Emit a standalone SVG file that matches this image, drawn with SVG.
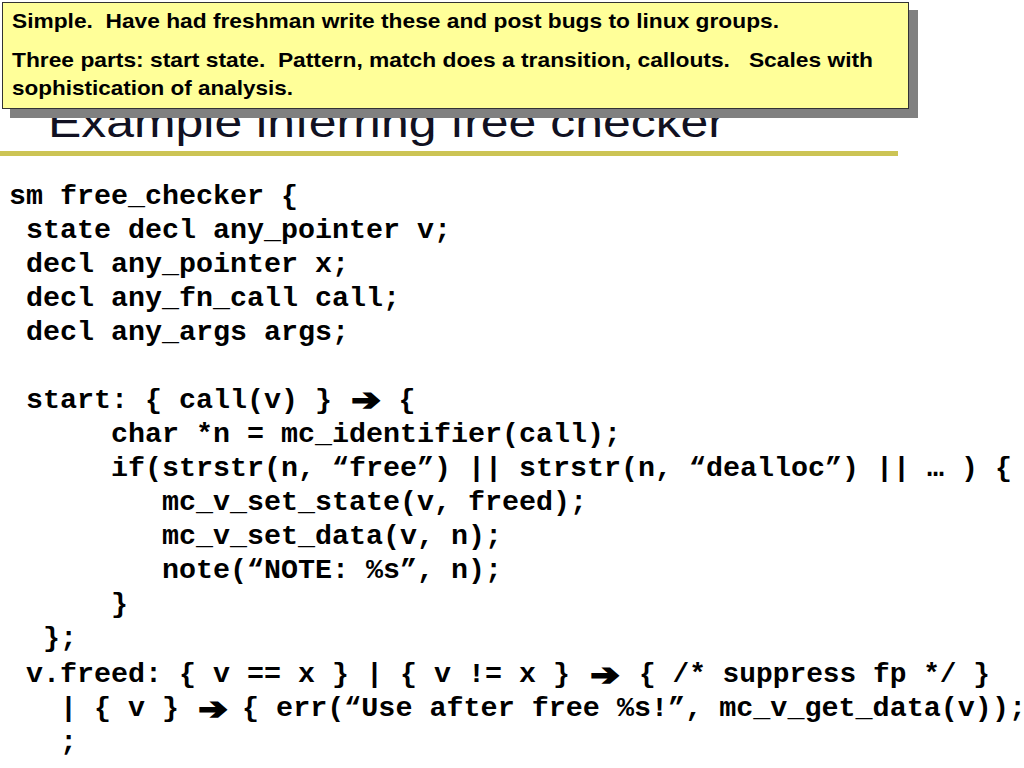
<svg xmlns="http://www.w3.org/2000/svg" width="1024" height="768" viewBox="0 0 1024 768">
<style>
.code{font-family:"Liberation Mono","Courier New",monospace;font-weight:bold;font-size:28.33px;fill:#000;}
.arr{font-family:"DejaVu Sans",sans-serif;font-weight:bold;font-size:30px;fill:#000;stroke:#000;stroke-width:2px;stroke-linejoin:miter;}
.note{font-family:"Liberation Sans",Arial,sans-serif;font-weight:bold;font-size:20.5px;fill:#000;}
.title{font-family:"Liberation Sans",Arial,sans-serif;font-size:42px;fill:#111122;}
</style>
<rect width="1024" height="768" fill="#fff"/>
<g id="title">
<text class="title" x="48" y="137" textLength="677" lengthAdjust="spacingAndGlyphs">Example inferring free checker</text>
<rect x="0" y="151" width="898" height="5" fill="#CCC455"/>
</g>
<g id="callout">
<rect x="10" y="10" width="908" height="108" fill="#808080"/>
<rect x="2.5" y="2.5" width="906" height="106" fill="#FFFF99" stroke="#333" stroke-width="1"/>
<text class="note" x="12" y="28" xml:space="preserve" textLength="767" lengthAdjust="spacingAndGlyphs">Simple.  Have had freshman write these and post bugs to linux groups.</text>
<text class="note" x="12" y="67" xml:space="preserve" textLength="861" lengthAdjust="spacingAndGlyphs">Three parts: start state.  Pattern, match does a transition, callouts.   Scales with</text>
<text class="note" x="12" y="95" xml:space="preserve" textLength="281" lengthAdjust="spacingAndGlyphs">sophistication of analysis.</text>
</g>
<g id="code">
<text class="code" x="9" y="204" xml:space="preserve">sm free_checker {</text>
<text class="code" x="26" y="238" xml:space="preserve">state decl any_pointer v;</text>
<text class="code" x="26" y="272" xml:space="preserve">decl any_pointer x;</text>
<text class="code" x="26" y="306" xml:space="preserve">decl any_fn_call call;</text>
<text class="code" x="26" y="340" xml:space="preserve">decl any_args args;</text>
<text class="code" y="408" xml:space="preserve"><tspan x="26">start: { call(v) }</tspan><tspan class="arr" x="366" y="410" text-anchor="middle" textLength="29" lengthAdjust="spacingAndGlyphs">➔</tspan><tspan x="398.5" y="408">{</tspan></text>
<text class="code" x="111" y="442" xml:space="preserve">char *n = mc_identifier(call);</text>
<text class="code" x="111" y="476" xml:space="preserve">if(strstr(n, “free”) || strstr(n, “dealloc”) || … ) {</text>
<text class="code" x="162" y="510" xml:space="preserve">mc_v_set_state(v, freed);</text>
<text class="code" x="162" y="544" xml:space="preserve">mc_v_set_data(v, n);</text>
<text class="code" x="162" y="578" xml:space="preserve">note(“NOTE: %s”, n);</text>
<text class="code" x="111" y="612">}</text>
<text class="code" x="43" y="646">};</text>
<text class="code" y="682" xml:space="preserve"><tspan x="26">v.freed: { v == x } | { v != x }</tspan><tspan class="arr" x="605" y="685" text-anchor="middle" textLength="29" lengthAdjust="spacingAndGlyphs">➔</tspan><tspan x="639" y="682" textLength="351" lengthAdjust="spacingAndGlyphs">{ /* suppress fp */ }</tspan></text>
<text class="code" y="716" xml:space="preserve"><tspan x="60">| { v }</tspan><tspan class="arr" x="213" y="719" text-anchor="middle" textLength="29" lengthAdjust="spacingAndGlyphs">➔</tspan><tspan x="242" y="716" textLength="784" lengthAdjust="spacingAndGlyphs">{ err(“Use after free %s!”, mc_v_get_data(v));</tspan></text>
<text class="code" x="60" y="750">;</text>
</g>
</svg>
